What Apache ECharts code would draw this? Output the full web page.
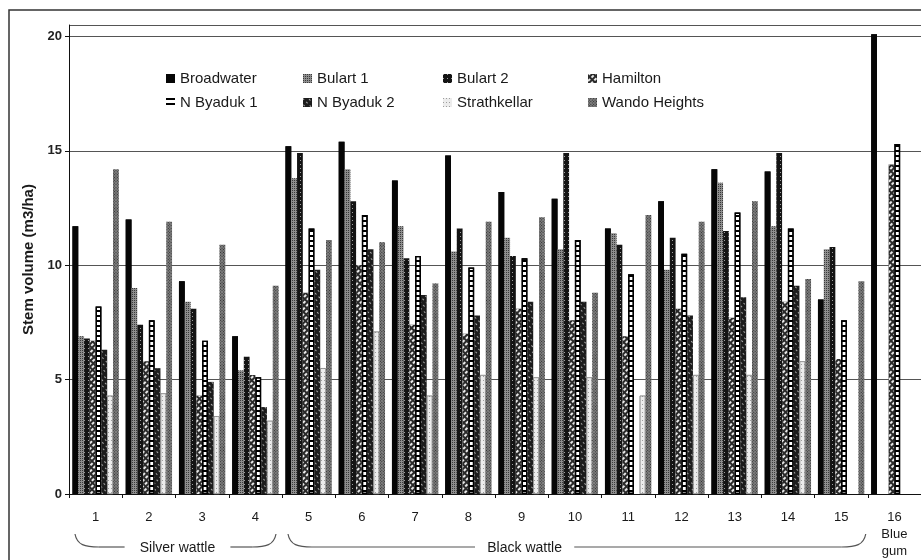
<!DOCTYPE html>
<html>
<head>
<meta charset="utf-8">
<script src="https://cdn.jsdelivr.net/npm/echarts@6/dist/echarts.min.js"></script>
<style>
html,body{margin:0;padding:0;background:#fff;}
#chart{width:921px;height:560px;}
</style>
</head>
<body>
<div id="chart"></div>
<script>
// ---- data ----
const categories = ['1','2','3','4','5','6','7','8','9','10','11','12','13','14','15','16\nBlue\ngum'];
const seriesNames = ['Broadwater','Bulart 1','Bulart 2','Hamilton','N Byaduk 1','N Byaduk 2','Strathkellar','Wando Heights'];
const broadwater = [11.7, 12.0, 9.3, 6.9, 15.2, 15.4, 13.7, 14.8, 13.2, 12.9, 11.6, 12.8, 14.2, 14.1, 8.5, 20.1];
const bulart1    = [6.9, 9.0, 8.4, 5.4, 13.8, 14.2, 11.7, 10.6, 11.2, 10.7, 11.4, 9.8, 13.6, 11.7, 10.7, null];
const bulart2    = [6.8, 7.4, 8.1, 6.0, 14.9, 12.8, 10.3, 11.6, 10.4, 14.9, 10.9, 11.2, 11.5, 14.9, 10.8, null];
const hamilton   = [6.7, 5.8, 4.3, 5.2, 8.8, 10.0, 7.4, 7.0, 8.1, 7.6, 6.9, 8.1, 7.7, 8.4, 5.9, 14.4];
const nByaduk1   = [8.2, 7.6, 6.7, 5.1, 11.6, 12.2, 10.4, 9.9, 10.3, 11.1, 9.6, 10.5, 12.3, 11.6, 7.6, 15.3];
const nByaduk2   = [6.3, 5.5, 4.9, 3.8, 9.8, 10.7, 8.7, 7.8, 8.4, 8.4, null, 7.8, 8.6, 9.1, null, null];
const strathkellar = [4.3, 4.4, 3.4, 3.2, 5.5, 7.1, 4.3, 5.2, 5.1, 5.1, 4.3, 5.2, 5.2, 5.8, null, null];
const wandoHeights = [14.2, 11.9, 10.9, 9.1, 11.1, 11.0, 9.2, 11.9, 12.1, 8.8, 12.2, 11.9, 12.8, 9.4, 9.3, null];
const yTicks = [0, 5, 10, 15, 20];
const yTitle = 'Stem volume (m3/ha)';
const speciesGroups = [
  {label: 'Silver wattle', from: 0, to: 3, labelAt: null},
  {label: 'Black wattle', from: 4, to: 14, labelAt: 8}
];

const allValues = [broadwater, bulart1, bulart2, hamilton, nByaduk1, nByaduk2, strathkellar, wandoHeights];

// ---- styles (fill colour + pattern) ----
const styles = [
  {color:'#060606', decal:{symbol:'rect', symbolSize:1, color:'#060606', dashArrayX:[[1,0]], dashArrayY:[1,0], rotation:0}},
  {color:'#8e8e8e', decal:{symbol:'rect', symbolSize:1, color:'#3a3a3a', dashArrayX:[[1,1]], dashArrayY:[1,1], rotation:0}},
  {color:'#141414', decal:{symbol:'rect', symbolSize:1, color:'#a0a0a0', dashArrayX:[[1,3]], dashArrayY:[1,3], rotation:0}},
  {color:'#2a2a2a', decal:{symbol:'rect', symbolSize:1, color:'#e8e8e8', dashArrayX:[[3,2]], dashArrayY:[1.5,2], rotation:-Math.PI/4}},
  {color:'#ffffff', decal:{symbol:'rect', symbolSize:1, color:'#000000', dashArrayX:[[1,0]], dashArrayY:[1.6,2.4], rotation:0}, borderColor:'#000', borderWidth:1.3},
  {color:'#1c1c1c', decal:{symbol:'rect', symbolSize:1, color:'#a8a8a8', dashArrayX:[[2,3]], dashArrayY:[1,2.5], rotation:Math.PI/4}},
  {color:'#ececec', decal:{symbol:'circle', symbolSize:0.9, color:'#4a4a4a', dashArrayX:[[1,2]], dashArrayY:[1,3], rotation:0}, borderColor:'#888', borderWidth:0.6},
  {color:'#808080', decal:{symbol:'rect', symbolSize:1, color:'#2e2e2e', dashArrayX:[[1,1]], dashArrayY:[1,1], rotation:Math.PI/4}}
];

const FONT = '"Liberation Sans", Arial, Helvetica, sans-serif';
const chart = echarts.init(document.getElementById('chart'), null, {renderer:'canvas'});

const legendCols = [166, 303, 443, 588];
const legendRows = [71, 95];
const legends = seriesNames.map((n, i) => ({
  show: true,
  left: legendCols[i % 4],
  top: legendRows[Math.floor(i / 4)],
  data: [n],
  icon: 'rect',
  itemWidth: 9,
  itemHeight: 9,
  itemGap: 5,
  padding: 0,
  selectedMode: false,
  itemStyle: {borderWidth: 0},
  textStyle: {fontFamily: FONT, fontSize: 15, color: '#1a1a1a'}
}));

const series = seriesNames.map((n, i) => ({
  name: n,
  type: 'bar',
  data: allValues[i],
  barGap: '0%',
  barCategoryGap: '13%',
  itemStyle: Object.assign({}, styles[i]),
  emphasis: {disabled: true}
}));

const option = {
  animation: false,
  backgroundColor: '#ffffff',
  aria: {enabled: true, label: {enabled: false}, decal: {show: true}},
  color: styles.map(s => s.color),
  legend: legends,
  grid: {left: 69, right: -1, top: 25, bottom: 66, containLabel: false},
  xAxis: {
    type: 'category',
    data: categories,
    axisLine: {show: true, lineStyle: {color: '#111', width: 1}},
    axisTick: {show: true, length: 4, lineStyle: {color: '#111'}},
    axisLabel: {fontFamily: FONT, fontSize: 13, color: '#1a1a1a', margin: 15, lineHeight: 17, verticalAlign: 'top', interval: 0},
    splitLine: {show: false}
  },
  yAxis: {
    type: 'value',
    min: yTicks[0],
    max: 20.5,
    interval: yTicks[1] - yTicks[0],
    name: yTitle,
    nameLocation: 'middle',
    nameGap: 33,
    nameRotate: 90,
    nameTextStyle: {fontFamily: FONT, fontSize: 15, fontWeight: 'bold', color: '#1a1a1a'},
    axisLine: {show: true, lineStyle: {color: '#111', width: 1}},
    axisTick: {show: true, length: 4, lineStyle: {color: '#111'}},
    axisLabel: {fontFamily: FONT, fontSize: 13, fontWeight: 'bold', color: '#222', margin: 7, showMaxLabel: false},
    splitLine: {show: true, lineStyle: {color: '#555', width: 1}}
  },
  series: series
};
chart.setOption(option);

// ---- decorative frame, braces and species labels ----
function decorations() {
  const px = c => chart.convertToPixel({xAxisIndex: 0}, c);
  const step = px(categories[1]) - px(categories[0]);
  const els = [];
  const yLine = 547, yTop = 534;
  const stroke = {stroke: '#555', lineWidth: 1.2, fill: null};
  speciesGroups.forEach((g, gi) => {
    const x1 = px(categories[g.from]) - step / 2 + 6;
    const x2 = px(categories[g.to]) + step / 2 - (gi === 0 ? 6 : 2);
    const mid = g.labelAt === null ? (x1 + x2) / 2 + 2 : px(categories[g.labelAt]) + 3;
    const tw = g.label.length * 6.6;
    els.push({type: 'bezierCurve', silent: true,
      shape: {x1: x1, y1: yTop, cpx1: x1 + 2, cpy1: yLine - 2, cpx2: x1 + 10, cpy2: yLine, x2: x1 + 24, y2: yLine},
      style: stroke});
    els.push({type: 'line', silent: true,
      shape: {x1: x1 + 24, y1: yLine, x2: mid - tw / 2 - 10, y2: yLine}, style: stroke});
    els.push({type: 'line', silent: true,
      shape: {x1: mid + tw / 2 + 10, y1: yLine, x2: x2 - 24, y2: yLine}, style: stroke});
    els.push({type: 'bezierCurve', silent: true,
      shape: {x1: x2 - 24, y1: yLine, cpx1: x2 - 10, cpy1: yLine, cpx2: x2 - 2, cpy2: yLine - 2, x2: x2, y2: yTop},
      style: stroke});
    els.push({type: 'text', silent: true, x: mid, y: 548,
      style: {text: g.label, fontFamily: FONT, fontSize: 14, fill: '#1a1a1a', align: 'center', verticalAlign: 'middle'}});
  });
  els.push({type: 'polyline', silent: true,
    shape: {points: [[9, 560], [9, 10], [921, 10]]},
    style: {fill: null, stroke: '#333', lineWidth: 1.5}});
  return els;
}
chart.setOption({graphic: {elements: decorations()}});
</script>
</body>
</html>
